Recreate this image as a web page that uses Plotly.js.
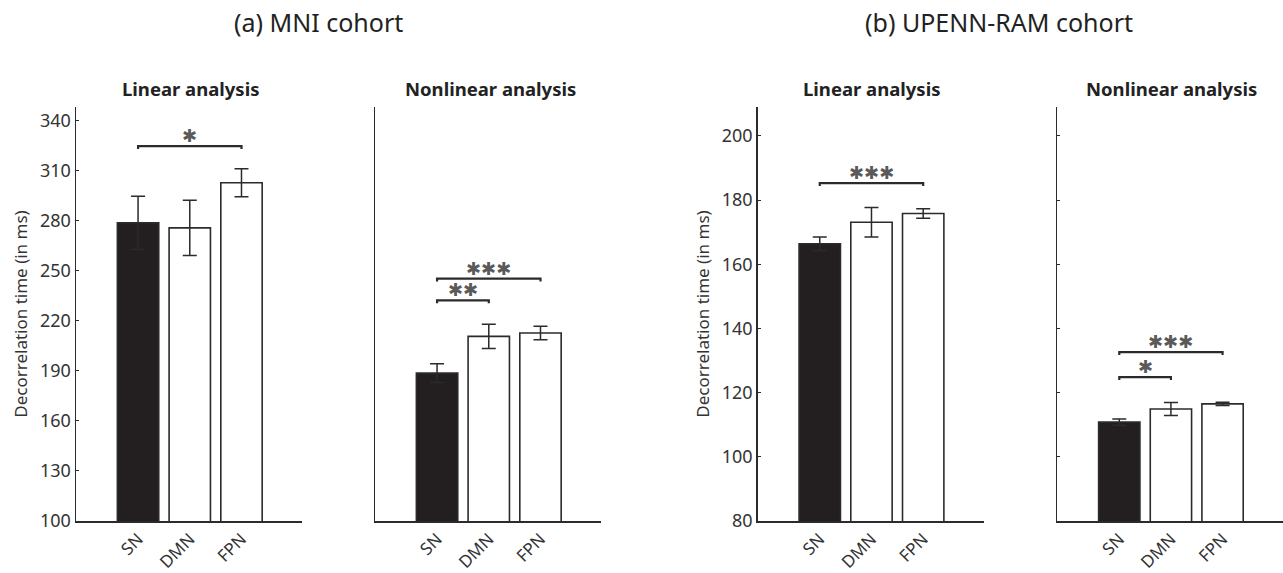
<!DOCTYPE html>
<html><head><meta charset="utf-8">
<script src="https://cdn.plot.ly/plotly-3.0.1.min.js"></script>
<style>body{margin:0;background:#fff}</style>
</head><body><div id="chart" style="width:1283px;height:573px"></div>
<script>
// ---- data ----
const categories = ['SN', 'DMN', 'FPN'];
const mniLinear = [278.6, 275.6, 302.6];
const mniLinearErr = [16.0, 16.5, 8.4];
const mniNonlinear = [188.6, 210.6, 212.6];
const mniNonlinearErr = [5.6, 7.3, 4.0];
const upennLinear = [166.4, 173.1, 175.8];
const upennLinearErr = [2.1, 4.6, 1.5];
const upennNonlinear = [110.8, 114.9, 116.5];
const upennNonlinearErr = [1.0, 2.0, 0.5];
const mniTicks = [100, 130, 160, 190, 220, 250, 280, 310, 340];
const upennTicks = [80, 100, 120, 140, 160, 180, 200];
const mniRange = [100, 348];
const upennRange = [80, 209];
// significance brackets: comparison pairs, bracket level (ms), label
const sigMniLinear = [{from: 'SN', to: 'FPN', level: 324.6, label: '✱'}];
const sigMniNonlinear = [{from: 'SN', to: 'DMN', level: 232.2, label: '✱✱'},
                         {from: 'SN', to: 'FPN', level: 245.2, label: '✱✱✱'}];
const sigUpennLinear = [{from: 'SN', to: 'FPN', level: 185.3, label: '✱✱✱'}];
const sigUpennNonlinear = [{from: 'SN', to: 'DMN', level: 124.8, label: '✱'},
                           {from: 'SN', to: 'FPN', level: 132.6, label: '✱✱✱'}];
const panelTitles = ['Linear analysis', 'Nonlinear analysis', 'Linear analysis', 'Nonlinear analysis'];
const cohortTitles = ['(a) MNI cohort', '(b) UPENN-RAM cohort'];
const yTitle = 'Decorrelation time (in ms)';

// ---- styling ----
const FONT = 'Noto Sans, Open Sans, sans-serif';
const INK = '#2b2b2b';
const barColors = ['#231f20', '#ffffff', '#ffffff'];

const panels = [
  {vals: mniLinear, err: mniLinearErr, sig: sigMniLinear, xa: 'x', ya: 'y', range: mniRange},
  {vals: mniNonlinear, err: mniNonlinearErr, sig: sigMniNonlinear, xa: 'x2', ya: 'y2', range: mniRange},
  {vals: upennLinear, err: upennLinearErr, sig: sigUpennLinear, xa: 'x3', ya: 'y3', range: upennRange},
  {vals: upennNonlinear, err: upennNonlinearErr, sig: sigUpennNonlinear, xa: 'x4', ya: 'y4', range: upennRange}
];

const traces = [];
const annotations = [];
panels.forEach(p => {
  traces.push({
    type: 'bar', x: categories, y: p.vals, xaxis: p.xa, yaxis: p.ya,
    width: 0.8,
    marker: {color: barColors, line: {color: INK, width: 1.6}},
    error_y: {type: 'data', array: p.err, visible: true, color: INK, thickness: 1.5, width: 7},
    showlegend: false, hoverinfo: 'x+y'
  });
  const dip = (p.range[1] - p.range[0]) * 0.007;
  p.sig.forEach(s => {
    traces.push({
      type: 'scatter', mode: 'lines', xaxis: p.xa, yaxis: p.ya,
      x: [s.from, s.from, s.to, s.to],
      y: [s.level - dip, s.level, s.level, s.level - dip],
      line: {color: INK, width: 2.2}, showlegend: false, hoverinfo: 'skip'
    });
    const mid = (categories.indexOf(s.from) + categories.indexOf(s.to)) / 2;
    annotations.push({
      xref: p.xa, yref: p.ya, x: mid, y: s.level, text: s.label,
      showarrow: false, xanchor: 'center', yanchor: 'middle', yshift: 10.5,
      font: {family: 'DejaVu Sans', size: 18, color: '#5a5a5a'}
    });
  });
});

const W = 1283, H = 573;
const px = (a, b) => [a / W, Math.min(1, b / W)];
const yDom = [(H - 521) / H, (H - 107) / H];
const xRange = [-1.2, 3.17];

function xAxis(dom, anchor) {
  return {domain: dom, anchor: anchor, range: xRange, showline: true, linecolor: INK, linewidth: 1.5,
    ticks: '', showgrid: false, zeroline: false, tickangle: -45,
    tickfont: {family: FONT, size: 17, color: '#333'}, fixedrange: true};
}
function yAxis(anchor, range, ticks, labels, showTicks) {
  return {domain: yDom, anchor: anchor, range: range, tickvals: ticks, showline: true, linecolor: INK,
    linewidth: 1.5, ticks: showTicks ? 'inside' : '', ticklen: 3, tickcolor: INK, showgrid: false,
    zeroline: false, showticklabels: labels, tickfont: {family: FONT, size: 18, color: '#333'},
    fixedrange: true};
}
function paperText(x, y, text, size, bold) {
  return {xref: 'paper', yref: 'paper', x: x / W, y: (H - y) / H, xanchor: 'center', yanchor: 'middle',
    text: bold ? '<b>' + text + '</b>' : text, showarrow: false,
    font: {family: FONT, size: size, color: '#222'}};
}

const layout = {
  width: W, height: H, margin: {l: 0, r: 0, t: 0, b: 0},
  paper_bgcolor: '#fff', plot_bgcolor: '#fff',
  xaxis: xAxis(px(76, 302), 'y'),
  xaxis2: xAxis(px(375, 601), 'y2'),
  xaxis3: xAxis(px(757.7, 983.7), 'y3'),
  xaxis4: xAxis(px(1057.3, 1283.3), 'y4'),
  yaxis: Object.assign(yAxis('x', mniRange, mniTicks, true, true),
    {title: {text: yTitle, font: {family: FONT, size: 17, color: '#333'}, standoff: 8}}),
  yaxis2: yAxis('x2', mniRange, mniTicks, false, false),
  yaxis3: Object.assign(yAxis('x3', upennRange, upennTicks, true, true),
    {title: {text: yTitle, font: {family: FONT, size: 17, color: '#333'}, standoff: 8}}),
  yaxis4: yAxis('x4', upennRange, upennTicks, false, true),
  annotations: annotations.concat([
    paperText(190, 89, panelTitles[0], 18.5, true),
    paperText(490, 89, panelTitles[1], 18.5, true),
    paperText(871, 89, panelTitles[2], 18.5, true),
    paperText(1171, 89, panelTitles[3], 18.5, true),
    paperText(318.5, 22, cohortTitles[0], 25, false),
    paperText(998.5, 22, cohortTitles[1], 25, false)
  ])
};

Plotly.newPlot('chart', traces, layout, {displayModeBar: false, staticPlot: true});
</script>
</body></html>
